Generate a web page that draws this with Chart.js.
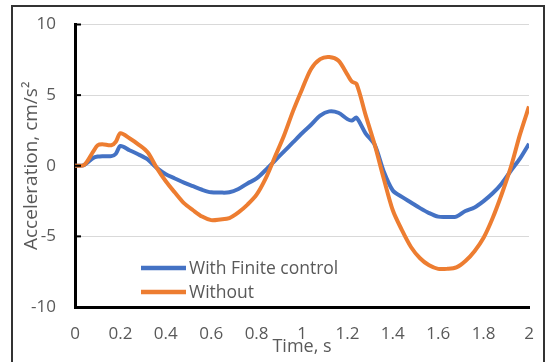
<!DOCTYPE html>
<html>
<head>
<meta charset="utf-8">
<script src="https://cdn.jsdelivr.net/npm/chart.js@4"></script>
<style>
  html, body { margin: 0; padding: 0; background: #fff; overflow: hidden; }
  #wrap { position: relative; width: 547px; height: 362px; }
  #frame {
    position: absolute; left: 11px; top: 5px; width: 530px; height: 380px;
    border: 2px solid #333; pointer-events: none;
  }
</style>
</head>
<body>
<div id="wrap">
  <canvas id="chart" width="547" height="362"></canvas>
  <div id="frame"></div>
</div>
<script>
// time, s
const times = [0, 0.04, 0.08, 0.10, 0.12, 0.16, 0.18, 0.20, 0.24, 0.28, 0.32, 0.36, 0.40, 0.44, 0.48,
  0.52, 0.56, 0.60, 0.64, 0.68, 0.72, 0.76, 0.80, 0.84, 0.88, 0.92, 0.96, 1.00, 1.04, 1.08, 1.12,
  1.16, 1.20, 1.22, 1.24, 1.28, 1.32, 1.36, 1.40, 1.44, 1.48, 1.52, 1.56, 1.60, 1.64, 1.68, 1.72,
  1.76, 1.80, 1.84, 1.88, 1.92, 1.96, 2.00];

// acceleration, cm/s^2
const withFinite = [0, 0.05, 0.55, 0.65, 0.68, 0.68, 0.85, 1.4, 1.1, 0.8, 0.45, -0.15, -0.6, -0.9, -1.2,
  -1.45, -1.7, -1.88, -1.9, -1.88, -1.65, -1.25, -0.9, -0.3, 0.35, 1.0, 1.65, 2.3, 2.9, 3.55, 3.85,
  3.75, 3.3, 3.2, 3.4, 2.3, 1.5, -0.4, -1.75, -2.2, -2.6, -3.0, -3.35, -3.6, -3.62, -3.6, -3.2,
  -2.95, -2.5, -1.95, -1.25, -0.35, 0.5, 1.55];

const without = [0, 0.05, 1.0, 1.45, 1.52, 1.45, 1.7, 2.3, 1.95, 1.5, 0.95, -0.15, -1.1, -1.9, -2.65,
  -3.15, -3.6, -3.85, -3.8, -3.7, -3.3, -2.75, -2.05, -0.9, 0.6, 2.1, 3.85, 5.4, 6.85, 7.55, 7.7,
  7.45, 6.45, 5.95, 5.8, 3.6, 1.5, -0.9, -3.15, -4.55, -5.75, -6.55, -7.05, -7.3, -7.3, -7.2, -6.75,
  -6.05, -5.1, -3.7, -2.0, -0.1, 2.2, 4.2];

const seriesLabels = ['With Finite control', 'Without'];
const yTicks = [-10, -5, 0, 5, 10];
const xTicks = [0, 0.2, 0.4, 0.6, 0.8, 1, 1.2, 1.4, 1.6, 1.8, 2];

const textColor = '#595959';
const fontFamily = '"Open Sans", sans-serif';

function toPoints(values) {
  return values.map((v, i) => ({ x: times[i], y: v }));
}

// legend inside the plot and the small inward tick marks on the y axis
const extras = {
  id: 'extras',
  afterDatasetsDraw(chart) {
    const c = chart.ctx;
    const yScale = chart.scales.y;
    const left = chart.chartArea.left;
    c.save();
    c.strokeStyle = '#000';
    c.lineWidth = 2;
    yTicks.forEach(v => {
      const py = yScale.getPixelForValue(v);
      c.beginPath();
      c.moveTo(left, py);
      c.lineTo(left + 6, py);
      c.stroke();
    });

    const rows = [268, 292];
    c.font = '17.5px ' + fontFamily;
    c.textBaseline = 'middle';
    c.lineCap = 'butt';
    chart.data.datasets.forEach((ds, i) => {
      c.strokeStyle = ds.borderColor;
      c.lineWidth = 4.5;
      c.beginPath();
      c.moveTo(141, rows[i]);
      c.lineTo(186, rows[i]);
      c.stroke();
      c.fillStyle = textColor;
      c.fillText(ds.label, 189, rows[i] + 1);
    });
    c.restore();
  }
};

new Chart(document.getElementById('chart'), {
  type: 'line',
  data: {
    datasets: [
      {
        label: seriesLabels[0],
        data: toPoints(withFinite),
        borderColor: '#4472C4',
        borderWidth: 4,
        pointRadius: 0,
        tension: 0.3,
        order: 1
      },
      {
        label: seriesLabels[1],
        data: toPoints(without),
        borderColor: '#ED7D31',
        borderWidth: 4,
        pointRadius: 0,
        tension: 0.3,
        order: 0
      }
    ]
  },
  options: {
    responsive: false,
    animation: false,
    layout: { padding: { left: 0, right: 18, top: 24.5, bottom: 0 } },
    plugins: {
      legend: { display: false },
      tooltip: { enabled: false }
    },
    scales: {
      x: {
        type: 'linear',
        min: 0,
        max: 2,
        afterBuildTicks: scale => { scale.ticks = xTicks.map(v => ({ value: v })); },
        afterFit: scale => {
          scale.height = 55;
          scale.paddingLeft = 0;
          scale.paddingRight = 0;
        },
        grid: { display: false, drawTicks: false },
        border: { display: true, color: '#000', width: 3 },
        ticks: {
          color: textColor,
          font: { family: fontFamily, size: 17 },
          padding: 17,
          maxRotation: 0,
          callback: v => String(v)
        },
        title: {
          display: true,
          text: 'Time, s',
          color: textColor,
          font: { family: fontFamily, size: 18 },
          padding: { top: 4, bottom: 4 }
        }
      },
      y: {
        min: -10,
        max: 10,
        afterBuildTicks: scale => { scale.ticks = yTicks.map(v => ({ value: v })); },
        afterFit: scale => {
          scale.width = 75;
          scale.paddingTop = 0;
          scale.paddingBottom = 0;
        },
        grid: { color: '#d9d9d9', lineWidth: 1, drawTicks: false },
        border: { display: true, color: '#000', width: 3 },
        ticks: {
          color: textColor,
          font: { family: fontFamily, size: 17 },
          padding: 19
        },
        title: {
          display: true,
          text: 'Acceleration, cm/s²',
          color: textColor,
          font: { family: fontFamily, size: 19 },
          padding: { top: 20, bottom: 4 }
        }
      }
    }
  },
  plugins: [extras]
});
</script>
</body>
</html>
